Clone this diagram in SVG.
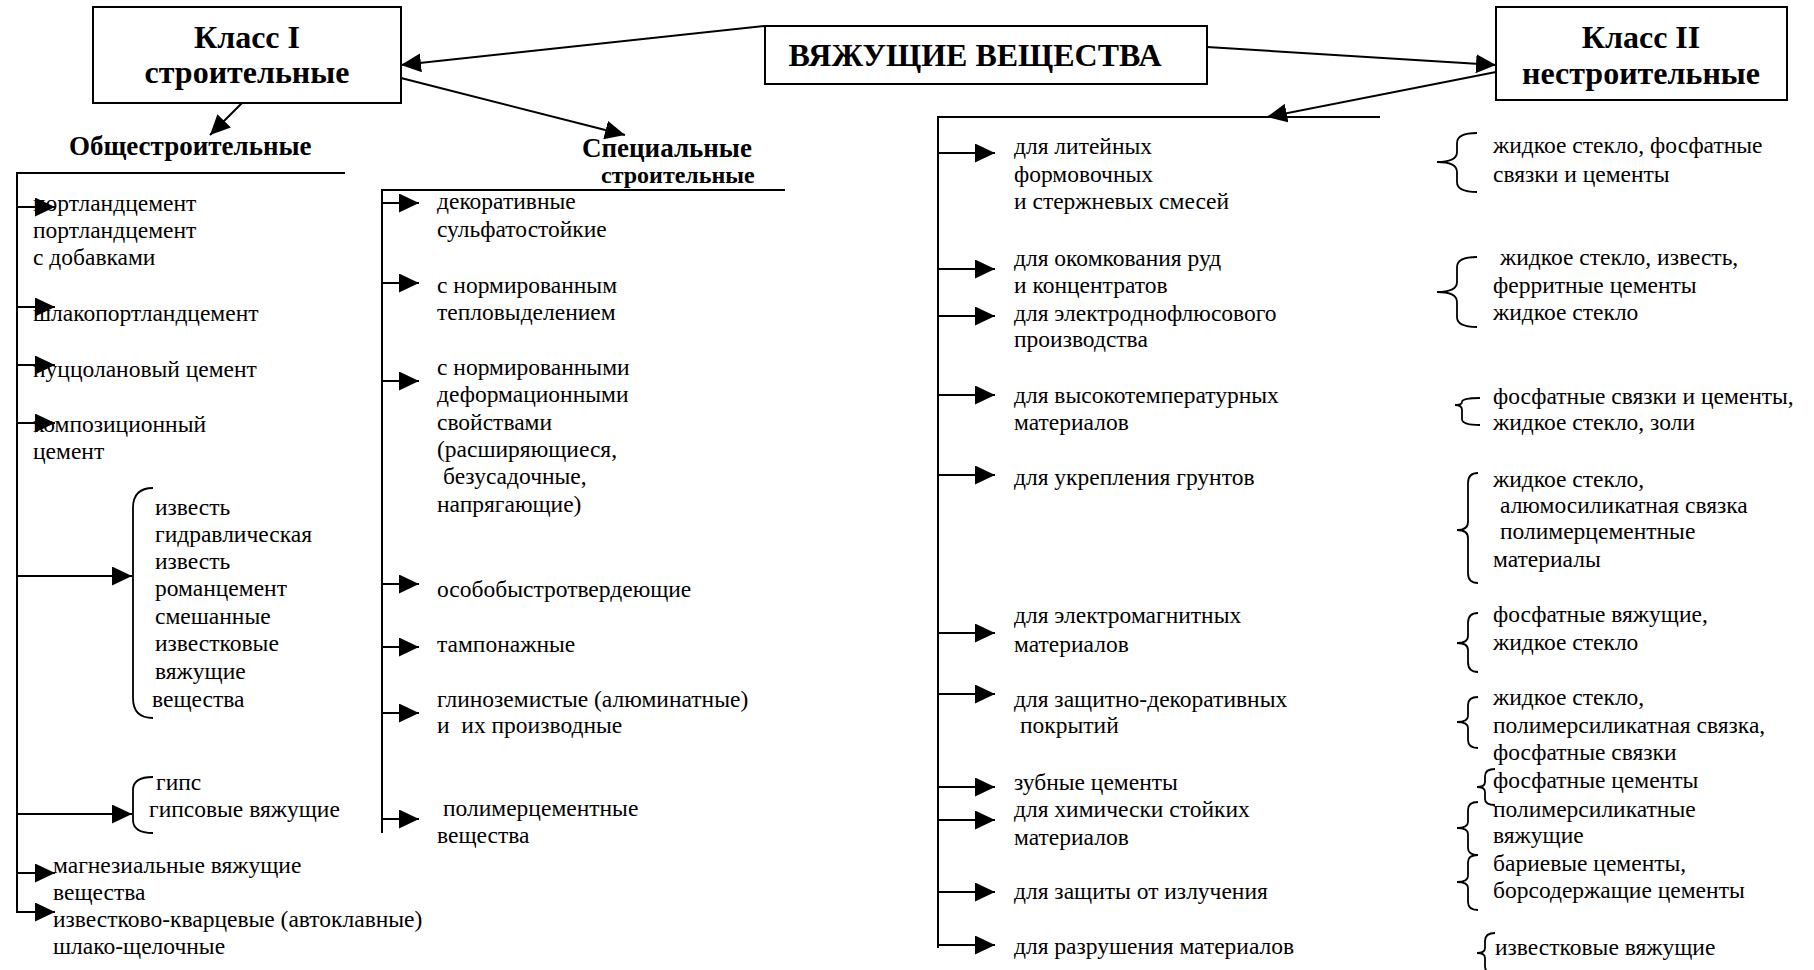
<svg xmlns="http://www.w3.org/2000/svg" width="1814" height="970" viewBox="0 0 1814 970">
<defs>
<style>
.t{font-family:"Liberation Serif","Times New Roman",serif;font-size:23.5px;fill:#000}
.h{font-family:"Liberation Serif","Times New Roman",serif;font-weight:bold;fill:#000}
.box{fill:#fff;stroke:#000;stroke-width:2}
.ln{fill:none;stroke:#000;stroke-width:2}
.br{fill:none;stroke:#000;stroke-width:1.8}
.pre{white-space:pre}
</style>
<marker id="ah" markerUnits="userSpaceOnUse" markerWidth="20" markerHeight="19" refX="20" refY="9.5" orient="auto" viewBox="0 0 20 19"><path d="M0,0 L20,9.5 L0,19 z" fill="#000"/></marker>
</defs>
<rect width="1814" height="970" fill="#fff"/>

<g id="root">
<rect class="box" x="765" y="26" width="442" height="58"/>
<text class="h" x="975" y="66" font-size="32" text-anchor="middle">ВЯЖУЩИЕ ВЕЩЕСТВА</text>
</g>

<g id="class1">
<rect class="box" x="93" y="7" width="308" height="96"/>
<text class="h" x="247" y="48" font-size="32" text-anchor="middle">Класс I</text>
<text class="h" x="247" y="83" font-size="32" text-anchor="middle">строительные</text>
</g>

<g id="class2">
<rect class="box" x="1496" y="7" width="291" height="93"/>
<text class="h" x="1641" y="48" font-size="32" text-anchor="middle">Класс II</text>
<text class="h" x="1641" y="84" font-size="32" text-anchor="middle">нестроительные</text>
</g>

<g id="general">
<text class="h" x="69" y="155" font-size="27">Общестроительные</text>
<text class="t" x="33" y="211">портландцемент</text>
<text class="t" x="33" y="238">портландцемент</text>
<text class="t" x="33" y="265">с добавками</text>
<text class="t" x="33" y="321">шлакопортландцемент</text>
<text class="t" x="33" y="377">пуццолановый цемент</text>
<text class="t" x="33" y="432">композиционный</text>
<text class="t" x="33" y="459">цемент</text>
<path class="br" d="M153,488 Q133,488 133,508 L133,698 Q133,718 153,718"/>
<text class="t" x="155" y="515">известь</text>
<text class="t" x="155" y="542">гидравлическая</text>
<text class="t" x="155" y="569">известь</text>
<text class="t" x="155" y="596">романцемент</text>
<text class="t" x="155" y="624">смешанные</text>
<text class="t" x="155" y="651">известковые</text>
<text class="t" x="155" y="679">вяжущие</text>
<text class="t" x="152" y="707">вещества</text>
<path class="br" d="M153,777 Q133,777 133,790 L133,820 Q133,833 153,833"/>
<text class="t" x="156" y="790">гипс</text>
<text class="t" x="149" y="817">гипсовые вяжущие</text>
<text class="t" x="53" y="873">магнезиальные вяжущие</text>
<text class="t" x="53" y="900">вещества</text>
<text class="t" x="53" y="927">известково-кварцевые (автоклавные)</text>
<text class="t" x="53" y="954">шлако-щелочные</text>
</g>

<g id="special">
<text class="h" x="582" y="157" font-size="27">Специальные</text>
<text class="h" x="601" y="183" font-size="24">строительные</text>
<text class="t" x="437" y="209">декоративные</text>
<text class="t" x="437" y="237">сульфатостойкие</text>
<text class="t" x="437" y="293">с нормированным</text>
<text class="t" x="437" y="320">тепловыделением</text>
<text class="t" x="437" y="375">с нормированными</text>
<text class="t" x="437" y="402">деформационными</text>
<text class="t" x="437" y="430">свойствами</text>
<text class="t" x="437" y="457">(расширяющиеся,</text>
<text class="t" x="443" y="484">безусадочные,</text>
<text class="t" x="437" y="512">напрягающие)</text>
<text class="t" x="437" y="597">особобыстротвердеющие</text>
<text class="t" x="437" y="652">тампонажные</text>
<text class="t" x="437" y="707">глиноземистые (алюминатные)</text>
<text class="t pre" x="437" y="733">и  их производные</text>
<text class="t" x="443" y="816">полимерцементные</text>
<text class="t" x="437" y="843">вещества</text>
</g>

<g id="nonconstr">
<text class="t" x="1014" y="154">для литейных</text>
<text class="t" x="1014" y="182">формовочных</text>
<text class="t" x="1014" y="209">и стержневых смесей</text>
<text class="t" x="1014" y="266">для окомкования руд</text>
<text class="t" x="1014" y="293">и концентратов</text>
<text class="t" x="1014" y="321">для электроднофлюсового</text>
<text class="t" x="1014" y="347">производства</text>
<text class="t" x="1014" y="403">для высокотемпературных</text>
<text class="t" x="1014" y="430">материалов</text>
<text class="t" x="1014" y="485">для укрепления грунтов</text>
<text class="t" x="1014" y="623">для электромагнитных</text>
<text class="t" x="1014" y="652">материалов</text>
<text class="t" x="1014" y="707">для защитно-декоративных</text>
<text class="t" x="1020" y="733">покрытий</text>
<text class="t" x="1014" y="790">зубные цементы</text>
<text class="t" x="1014" y="817">для химически стойких</text>
<text class="t" x="1014" y="845">материалов</text>
<text class="t" x="1014" y="899">для защиты от излучения</text>
<text class="t" x="1014" y="954">для разрушения материалов</text>
</g>

<g id="binders">
<path class="br" d="M1477,133 Q1457,133 1457,143 L1457,152 Q1457,162 1437,162 Q1457,162 1457,172 L1457,182 Q1457,192 1477,192"/>
<text class="t" x="1493" y="153">жидкое стекло, фосфатные</text>
<text class="t" x="1493" y="182">связки и цементы</text>
<path class="br" d="M1477,257 Q1457,257 1457,267 L1457,282 Q1457,292 1437,292 Q1457,292 1457,302 L1457,317 Q1457,327 1477,327"/>
<text class="t" x="1500" y="265">жидкое стекло, известь,</text>
<text class="t" x="1493" y="293">ферритные цементы</text>
<text class="t" x="1493" y="320">жидкое стекло</text>
<path class="br" d="M1480,398 Q1462,398 1462,402 Q1462,405 1455,405 Q1462,405 1462,410 L1462,419 Q1462,425 1480,425"/>
<text class="t" x="1493" y="404">фосфатные связки и цементы,</text>
<text class="t" x="1493" y="430">жидкое стекло, золи</text>
<path class="br" d="M1478,473 Q1468,473 1468,483 L1468,522 Q1468,530 1457,530 Q1468,530 1468,538 L1468,573 Q1468,583 1478,583"/>
<text class="t" x="1493" y="487">жидкое стекло,</text>
<text class="t" x="1500" y="513">алюмосиликатная связка</text>
<text class="t" x="1500" y="539">полимерцементные</text>
<text class="t" x="1493" y="567">материалы</text>
<path class="br" d="M1478,613 Q1468,613 1468,623 L1468,636 Q1468,643 1457,643 Q1468,643 1468,650 L1468,662 Q1468,672 1478,672"/>
<text class="t" x="1493" y="622">фосфатные вяжущие,</text>
<text class="t" x="1493" y="650">жидкое стекло</text>
<path class="br" d="M1478,697 Q1468,697 1468,705 L1468,716 Q1468,722 1457,722 Q1468,722 1468,728 L1468,740 Q1468,748 1478,748"/>
<text class="t" x="1493" y="705">жидкое стекло,</text>
<text class="t" x="1493" y="733">полимерсиликатная связка,</text>
<text class="t" x="1493" y="760">фосфатные связки</text>
<path class="br" d="M1495,769 Q1485,769 1485,776 L1485,782 Q1485,787 1477,787 Q1485,787 1485,792 L1485,799 Q1485,805 1495,805"/>
<text class="t" x="1493" y="788">фосфатные цементы</text>
<path class="br" d="M1478,802 Q1468,802 1468,810 L1468,822 Q1468,828 1457,828 Q1468,828 1468,834 L1468,848 Q1468,855 1478,855"/>
<path class="br" d="M1478,855 Q1468,855 1468,862 L1468,876 Q1468,882 1457,882 Q1468,882 1468,888 L1468,902 Q1468,910 1478,910"/>
<text class="t" x="1493" y="817">полимерсиликатные</text>
<text class="t" x="1493" y="843">вяжущие</text>
<text class="t" x="1493" y="871">бариевые цементы,</text>
<text class="t" x="1493" y="898">борсодержащие цементы</text>
<path class="br" d="M1495,933 Q1485,933 1485,941 L1485,948 Q1485,953 1477,953 Q1485,953 1485,958 L1485,966 Q1485,974 1495,974"/>
<text class="t" x="1495" y="955">известковые вяжущие</text>
</g>

<g id="connectors">
<line class="ln" x1="765" y1="26" x2="401" y2="65" marker-end="url(#ah)"/>
<line class="ln" x1="1207" y1="47" x2="1496" y2="65" marker-end="url(#ah)"/>
<line class="ln" x1="401" y1="78" x2="625" y2="135" marker-end="url(#ah)"/>
<line class="ln" x1="242" y1="103" x2="210" y2="135" marker-end="url(#ah)"/>
<line class="ln" x1="1496" y1="72" x2="1267" y2="117" marker-end="url(#ah)"/>

<path class="ln" d="M345,173 H17 V912"/>
<line class="ln" x1="17" y1="207" x2="55" y2="207" marker-end="url(#ah)"/>
<line class="ln" x1="17" y1="307" x2="55" y2="307" marker-end="url(#ah)"/>
<line class="ln" x1="17" y1="365" x2="55" y2="365" marker-end="url(#ah)"/>
<line class="ln" x1="17" y1="423" x2="55" y2="423" marker-end="url(#ah)"/>
<line class="ln" x1="17" y1="576" x2="132" y2="576" marker-end="url(#ah)"/>
<line class="ln" x1="17" y1="814" x2="132" y2="814" marker-end="url(#ah)"/>
<line class="ln" x1="17" y1="873" x2="55" y2="873" marker-end="url(#ah)"/>
<line class="ln" x1="16" y1="912" x2="55" y2="912" marker-end="url(#ah)"/>

<path class="ln" d="M785,190 H382 V833"/>
<line class="ln" x1="382" y1="203" x2="419" y2="203" marker-end="url(#ah)"/>
<line class="ln" x1="382" y1="283" x2="419" y2="283" marker-end="url(#ah)"/>
<line class="ln" x1="382" y1="381" x2="419" y2="381" marker-end="url(#ah)"/>
<line class="ln" x1="382" y1="584" x2="419" y2="584" marker-end="url(#ah)"/>
<line class="ln" x1="382" y1="647" x2="419" y2="647" marker-end="url(#ah)"/>
<line class="ln" x1="382" y1="713" x2="419" y2="713" marker-end="url(#ah)"/>
<line class="ln" x1="382" y1="819" x2="419" y2="819" marker-end="url(#ah)"/>

<path class="ln" d="M1380,117 H938 V948"/>
<line class="ln" x1="938" y1="153" x2="995" y2="153" marker-end="url(#ah)"/>
<line class="ln" x1="938" y1="269" x2="995" y2="269" marker-end="url(#ah)"/>
<line class="ln" x1="938" y1="316" x2="995" y2="316" marker-end="url(#ah)"/>
<line class="ln" x1="938" y1="395" x2="995" y2="395" marker-end="url(#ah)"/>
<line class="ln" x1="938" y1="475" x2="995" y2="475" marker-end="url(#ah)"/>
<line class="ln" x1="938" y1="633" x2="995" y2="633" marker-end="url(#ah)"/>
<line class="ln" x1="938" y1="694" x2="995" y2="694" marker-end="url(#ah)"/>
<line class="ln" x1="938" y1="787" x2="995" y2="787" marker-end="url(#ah)"/>
<line class="ln" x1="938" y1="820" x2="995" y2="820" marker-end="url(#ah)"/>
<line class="ln" x1="938" y1="892" x2="995" y2="892" marker-end="url(#ah)"/>
<line class="ln" x1="938" y1="945" x2="995" y2="945" marker-end="url(#ah)"/>
</g>
</svg>
